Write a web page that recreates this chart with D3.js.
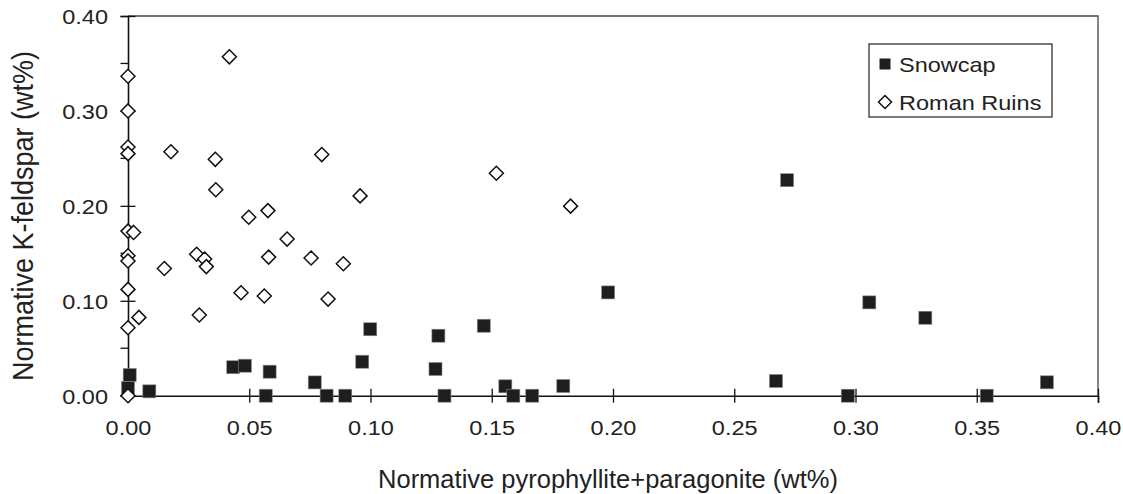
<!DOCTYPE html>
<html>
  <head>
    <script src="https://d3js.org/d3.v7.min.js"></script>
  </head>
  <style>
    body { margin: 0; background: #fff; }
    text { font-family: "Liberation Sans", Arial, sans-serif; fill: #222; }
  </style>
  <body>
    <svg></svg>
    <script>
// Snowcap samples (filled squares)
const snowcapX = [0.0007, 0.0000, 0.0088, 0.0434, 0.0482, 0.0584, 0.0568, 0.0770, 0.0819, 0.0896,
                  0.0966, 0.0999, 0.1280, 0.1268, 0.1305, 0.1467, 0.1556, 0.1589, 0.1667, 0.1795,
                  0.1980, 0.2718, 0.3057, 0.3288, 0.2672, 0.2968, 0.3541, 0.3789];
const snowcapY = [0.0218, 0.0080, 0.0046, 0.0300, 0.0316, 0.0253, 0.0000, 0.0140, 0.0000, 0.0000,
                  0.0358, 0.0700, 0.0632, 0.0281, 0.0000, 0.0737, 0.0099, 0.0000, 0.0000, 0.0102,
                  0.1088, 0.2270, 0.0983, 0.0821, 0.0155, 0.0000, 0.0000, 0.0141];

// Roman Ruins samples (open diamonds)
const romanX = [0.0418, 0.0000, 0.0000, 0.0000, 0.0000, 0.0177, 0.0360, 0.0799, 0.0362, 0.0957,
                0.0577, 0.0498, 0.0000, 0.0023, 0.0656, 0.0000, 0.0000, 0.0283, 0.0316, 0.0323,
                0.0150, 0.0580, 0.0755, 0.0888, 0.0000, 0.0466, 0.0562, 0.0825, 0.0045, 0.0294,
                0.0000, 0.0000, 0.1519, 0.1825];
const romanY = [0.3570, 0.3365, 0.3000, 0.2620, 0.2550, 0.2570, 0.2490, 0.2540, 0.2170, 0.2105,
                0.1950, 0.1880, 0.1734, 0.1720, 0.1650, 0.1474, 0.1420, 0.1490, 0.1440, 0.1360,
                0.1340, 0.1460, 0.1450, 0.1390, 0.1120, 0.1084, 0.1050, 0.1018, 0.0825, 0.0850,
                0.0716, 0.0000, 0.2344, 0.1997];

const xTicks = [0, 0.05, 0.10, 0.15, 0.20, 0.25, 0.30, 0.35, 0.40];
const yMajor = [0, 0.10, 0.20, 0.30, 0.40];
const yMinor = [0.05, 0.15, 0.25, 0.35];

const seriesNames = ["Snowcap", "Roman Ruins"];

const width = 1123, height = 494;
const stretch = 1.12; // glyphs in the picture are a bit wide

var svg = d3.select("svg").attr("width", width).attr("height", height);

const x = d3.scaleLinear().domain([0, 0.4]).range([128, 1098]);
const y = d3.scaleLinear().domain([0, 0.4]).range([395.7, 16]);
const fmt = d3.format(".2f");

// frame (top and right)
svg.append("path")
  .attr("d", `M${x(0)},${y(0.4)}H${x(0.4)}V${y(0)}`)
  .attr("fill", "none").attr("stroke", "#444").attr("stroke-width", 1.3);

// x axis
const gx = svg.append("g")
  .attr("transform", `translate(0,${y(0)})`)
  .call(d3.axisBottom(x).tickValues(xTicks).tickFormat(fmt).tickSize(7));
gx.select(".domain").attr("stroke", "#111").attr("stroke-width", 1.6);
gx.selectAll(".tick line").attr("y1", -7).attr("stroke", "#111").attr("stroke-width", 1.3);
gx.selectAll(".tick text")
  .attr("y", 39).attr("dy", null)
  .attr("transform", `scale(${stretch},1)`)
  .style("font-size", "21px").attr("fill", "#222");

// y axis
const gy = svg.append("g")
  .attr("transform", `translate(${x(0)},0)`)
  .call(d3.axisLeft(y).tickValues(yMajor).tickFormat(fmt).tickSize(7.5));
gy.select(".domain").attr("stroke", "#111").attr("stroke-width", 1.6);
gy.selectAll(".tick line").attr("x1", 7.5).attr("stroke", "#111").attr("stroke-width", 1.3);
gy.selectAll(".tick text")
  .attr("x", -20 / stretch).attr("dy", "0.36em")
  .attr("transform", `scale(${stretch},1)`)
  .style("font-size", "21px").attr("fill", "#222");

svg.append("g").selectAll("line")
  .data(yMinor).enter().append("line")
  .attr("x1", x(0) - 7.5).attr("x2", x(0))
  .attr("y1", d => y(d)).attr("y2", d => y(d))
  .attr("stroke", "#111").attr("stroke-width", 1.3);

// axis titles
svg.append("text")
  .attr("x", 608).attr("y", 488)
  .attr("text-anchor", "middle")
  .style("font-size", "25.5px")
  .text("Normative pyrophyllite+paragonite (wt%)");

svg.append("text")
  .attr("transform", `translate(33,216) rotate(-90) scale(1,${stretch})`)
  .attr("text-anchor", "middle")
  .style("font-size", "27px")
  .text("Normative K-feldspar (wt%)");

// markers
const sq = 13;
const diamond = (cx, cy, r) => `M${cx},${cy - r}L${cx + r},${cy}L${cx},${cy + r}L${cx - r},${cy}Z`;

svg.append("g").selectAll("rect")
  .data(d3.range(snowcapX.length)).enter().append("rect")
  .attr("x", i => x(snowcapX[i]) - sq / 2)
  .attr("y", i => y(snowcapY[i]) - sq / 2)
  .attr("width", sq).attr("height", sq)
  .attr("fill", "#1e1e1e").attr("stroke", "#888").attr("stroke-width", 0.6);

svg.append("g").selectAll("path")
  .data(d3.range(romanX.length)).enter().append("path")
  .attr("d", i => diamond(x(romanX[i]), y(romanY[i]), 7))
  .attr("fill", "#fff").attr("stroke", "#111").attr("stroke-width", 1.5);

// legend
const lg = svg.append("g");
lg.append("rect")
  .attr("x", 869).attr("y", 44).attr("width", 183).attr("height", 73)
  .attr("fill", "#fff").attr("stroke", "#222").attr("stroke-width", 1.2);
lg.append("rect")
  .attr("x", 885 - 5.5).attr("y", 64 - 5.5).attr("width", 11).attr("height", 11)
  .attr("fill", "#1e1e1e");
lg.append("path")
  .attr("d", diamond(885, 102, 6.5))
  .attr("fill", "#fff").attr("stroke", "#111").attr("stroke-width", 1.5);
lg.selectAll("text")
  .data(seriesNames).enter().append("text")
  .attr("transform", (d, i) => `translate(899,${i === 0 ? 72 : 110}) scale(${stretch},1)`)
  .style("font-size", "21px")
  .text(d => d);
    </script>
  </body>
</html>
